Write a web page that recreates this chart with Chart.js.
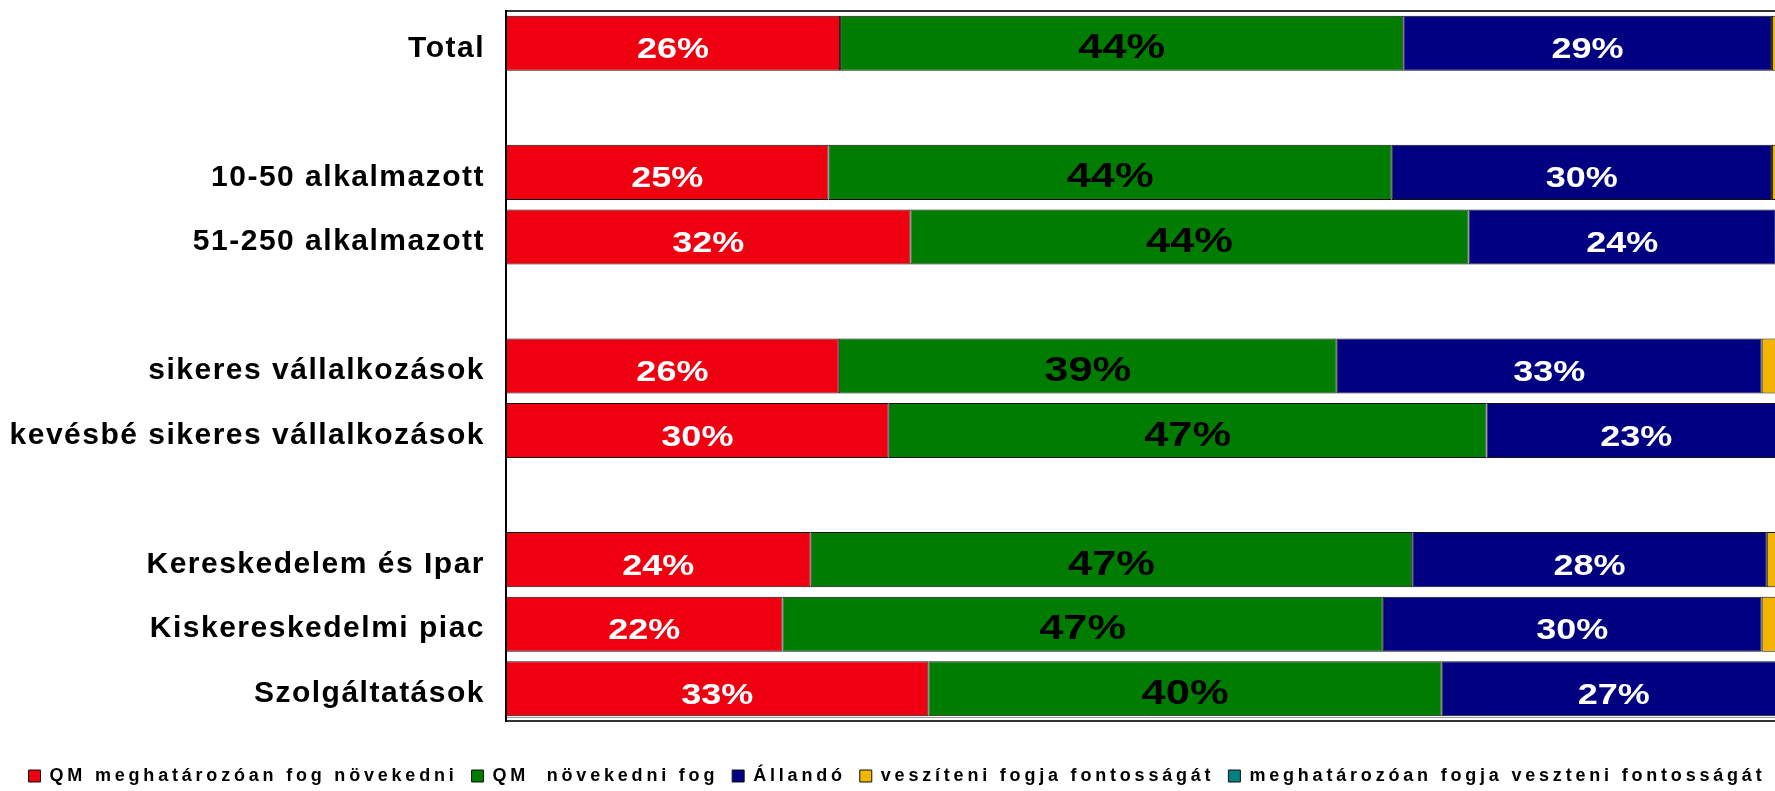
<!DOCTYPE html>
<html>
<head>
<meta charset="utf-8">
<script src="https://cdn.jsdelivr.net/npm/chart.js@4.4.1/dist/chart.umd.min.js"></script>
<style>
  html, body { margin: 0; padding: 0; background: #fff; overflow: hidden; }
  #qmChart { display: block; }
</style>
</head>
<body>
<canvas id="qmChart" width="1797" height="791"></canvas>
<script>
// categories (empty ones are the gaps between groups)
const categories = ["Total", "", "10-50 alkalmazott", "51-250 alkalmazott", "", "sikeres vállalkozások", "kevésbé sikeres vállalkozások", "", "Kereskedelem és Ipar", "Kiskereskedelmi piac", "Szolgáltatások"];

const seriesNames = ["QM meghatározóan fog növekedni", "QM  növekedni fog", "Állandó", "veszíteni fogja fontosságát", "meghatározóan fogja veszteni fontosságát"];

// percentages
const nagyonNo  = [26.1, null, 25.2, 31.6, null, 26.0, 29.9, null, 23.8, 21.6, 33.0];
const novekszik = [44.0, null, 44.0, 43.6, null, 38.9, 46.7, null, 47.0, 46.9, 40.1];
const allando   = [28.8, null, 29.7, 24.0, null, 33.2, 23.4, null, 27.7, 29.6, 26.9];
const veszit    = [1.1, null, 1.1, 0.8, null, 1.9, null, null, 1.5, 1.9, null];
const nagyonVeszit = [null, null, null, null, null, null, null, null, null, null, null];

const barColors = ["#EF0010", "#007D00", "#000080", "#F2B600", "#008080"];

const FONT = "'Liberation Sans', Arial, Helvetica, sans-serif";
const LEGEND_SPACING = '3.8px';
const TICK_SPACING = '1.5px';

// the spacing of letters can not be given in chart.js font options, so it is set on the context
const spacingPlugin = {
  id: 'spacing',
  beforeLayout(chart) { chart.ctx.letterSpacing = LEGEND_SPACING; },   // legend gets measured here
  afterLayout(chart) { chart.ctx.letterSpacing = '0px'; },
  beforeDraw(chart) { chart.ctx.letterSpacing = LEGEND_SPACING; },     // legend drawn (z 0)
  beforeDatasetsDraw(chart) { chart.ctx.letterSpacing = '0px'; },
  afterDatasetsDraw(chart) {
    const ctx = chart.ctx;
    const area = chart.chartArea;

    // value labels in the middle of red, green and blue parts
    ctx.save();
    for (let d = 0; d < 3; d++) {
      const meta = chart.getDatasetMeta(d);
      const ds = chart.data.datasets[d];
      meta.data.forEach(function(bar, i) {
        const v = ds.data[i];
        if (v == null) return;
        const p = bar.getProps(['x', 'y', 'base'], true);
        const cx = (p.x + p.base) / 2;
        ctx.save();
        ctx.translate(cx, p.y + 15);
        ctx.textAlign = 'center';
        ctx.textBaseline = 'alphabetic';
        if (d == 1) {
          ctx.scale(1.24, 1);
          ctx.font = "bold 35px " + FONT;
          ctx.fillStyle = '#000';
        } else {
          ctx.scale(1.2, 1);
          ctx.font = "bold 30px " + FONT;
          ctx.fillStyle = '#fff';
        }
        ctx.fillText(Math.round(v) + '%', 0, 0);
        ctx.restore();
      });
    }

    // frame lines top and bottom
    ctx.lineWidth = 2;
    ctx.strokeStyle = '#333';
    ctx.beginPath();
    ctx.moveTo(area.left, area.top);
    ctx.lineTo(chart.width, area.top);
    ctx.moveTo(area.left, area.bottom);
    ctx.lineTo(chart.width, area.bottom);
    ctx.stroke();
    ctx.lineWidth = 1;
    ctx.strokeStyle = '#999';
    ctx.beginPath();
    ctx.moveTo(area.left, area.bottom - 3.5);
    ctx.lineTo(chart.width, area.bottom - 3.5);
    ctx.stroke();
    ctx.restore();

    ctx.letterSpacing = TICK_SPACING;   // y axis labels are drawn after this (ticks z 1)
  },
  afterDraw(chart) { chart.ctx.letterSpacing = '0px'; }
};

const datasets = [nagyonNo, novekszik, allando, veszit, nagyonVeszit].map(function(vals, k) {
  return {
    label: seriesNames[k],
    data: vals,
    backgroundColor: barColors[k],
    borderColor: '#111',
    borderWidth: 1,
    borderSkipped: false,
    barPercentage: 0.853,
    categoryPercentage: 1.0
  };
});

const config = {
  type: 'bar',
  data: {
    labels: categories,
    datasets: datasets
  },
  options: {
    indexAxis: 'y',
    responsive: false,
    animation: false,
    layout: {
      padding: { top: 11, left: 8, right: 11, bottom: -4 }
    },
    scales: {
      x: {
        stacked: true,
        min: 0,
        max: 100,
        grid: { display: false, drawTicks: false },
        border: { display: false },
        ticks: { display: false },
        afterFit: function(s) { s.height = 32; s.paddingLeft = 0; s.paddingRight = 0; }
      },
      y: {
        stacked: true,
        grid: { display: false, drawTicks: false },
        border: { display: true, color: '#000', width: 2, z: 1 },
        ticks: {
          z: 1,
          autoSkip: false,
          padding: 21,
          labelOffset: 5,
          color: '#000',
          font: { family: FONT, size: 30, weight: 'bold' }
        },
        afterFit: function(s) { s.width = 498; s.paddingTop = 0; s.paddingBottom = 0; }
      }
    },
    plugins: {
      legend: {
        position: 'bottom',
        labels: {
          boxWidth: 12,
          boxHeight: 12,
          padding: 14,
          color: '#000',
          font: { family: FONT, size: 18, weight: 'bold' }
        }
      },
      tooltip: { enabled: false }
    }
  },
  plugins: [spacingPlugin]
};

var ch1 = new Chart("qmChart", config);
</script>
</body>
</html>
